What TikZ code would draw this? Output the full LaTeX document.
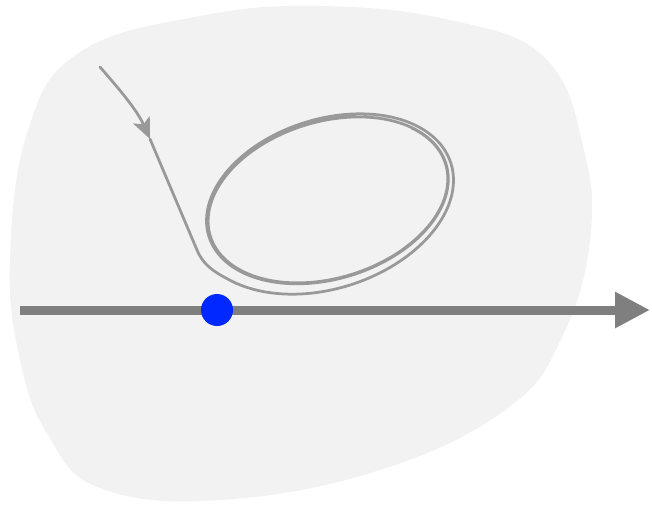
\documentclass[tikz,border=0pt]{standalone}
\usetikzlibrary{arrows.meta}
\definecolor{blobgray}{HTML}{F2F2F2}
\definecolor{axisgray}{HTML}{7F7F7F}
\definecolor{orbitgray}{HTML}{999999}
\definecolor{pointblue}{HTML}{0028FF}
% pixel-like units, y pointing down
\newcommand{\sprA}{(123+14*exp(-(\x-215)/150))}
\newcommand{\sprB}{(78+14*exp(-(\x-215)/150))}
\begin{document}
\begin{tikzpicture}[x = 0.02cm, y = -0.02cm,
  orbit/.style = {draw = orbitgray, line width = 0.055cm, line cap = round},
  axis/.style = {draw = axisgray, line width = 0.18cm, -{Triangle[length = 0.7cm, width = 0.68cm]}}]
\useasboundingbox (0,0) rectangle (652,505);
\fill[blobgray] plot[smooth cycle, tension = 0.7] coordinates {(10,260) (28,130) (80,52) (200,16) (320,6) (450,20) (545,58) (584,150) (590,240) (563,335) (508,408) (380,470) (220,500) (100,488) (48,435) (20,360)};
% incoming trajectory
\coordinate (start) at (100,67);
\coordinate (tip) at (150,139);
\coordinate (corner) at (197,250);
\coordinate (enter) at (236.1,283.3);
\draw[orbit, -{Stealth[length = 0.42cm, width = 0.36cm, inset = 0.1cm]}] (start) .. controls (120,90) and (137,110) .. (tip);
\draw[orbit] (tip) -- (corner) .. controls (204,266.8) and (216.6,273.5) .. (enter);
\draw[orbit] plot[smooth, samples = 300, domain = 215:1115, variable = \x] ({328 + \sprA*cos(\x)*0.956 - \sprB*sin(\x)*0.292}, {200 - (\sprA*cos(\x)*0.292 + \sprB*sin(\x)*0.956)});
% axis and equilibrium
\coordinate (left) at (20,310);
\coordinate (right) at (650,310);
\draw[axis] (left) -- (right);
\node[circle, fill = pointblue, minimum size = 0.64cm, inner sep = 0pt] (eq) at (217,310) {};
\end{tikzpicture}
\end{document}
